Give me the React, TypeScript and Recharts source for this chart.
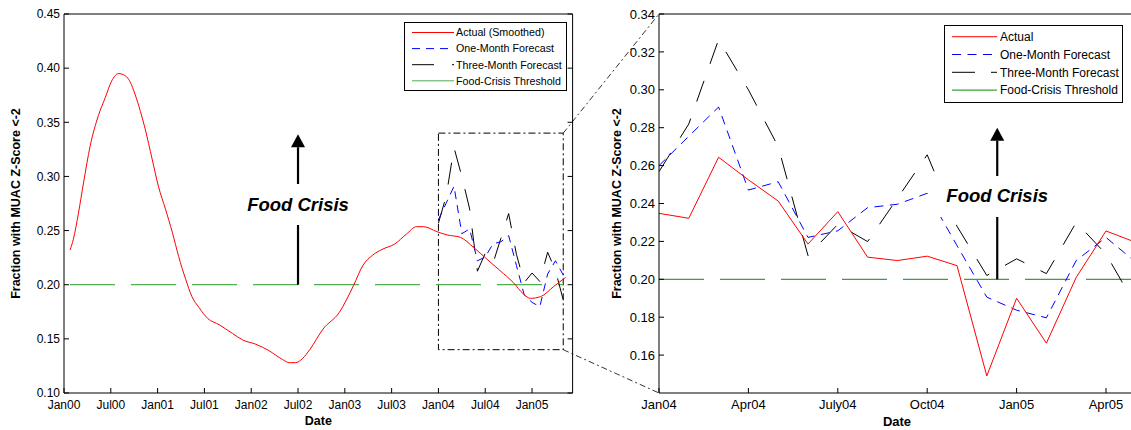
import React from 'react';
import {
  LineChart,
  Line,
  XAxis,
  YAxis,
  ReferenceLine,
  ReferenceArea,
  ReferenceDot,
  Legend,
} from 'recharts';

const FONT = '"Liberation Sans", Arial, Helvetica, sans-serif';

// ---------- Left panel: smoothed actual (months since Jan00) ----------
const smoothMonths = [
  0.77, 1.2, 1.85, 2.5, 3.35, 4.4, 5.3, 6.1, 7.0, 7.6, 8.5, 9.1, 9.8, 10.4, 11.3, 12.1, 13.0, 13.9,
  14.7, 15.6, 16.4, 17.3, 18.4, 19.9, 21.6, 22.9, 24.6, 26.3, 28.0, 28.9, 29.7, 30.6, 31.5, 33.2,
  35.3, 37.1, 38.3, 39.6, 40.9, 42.4, 43.9, 45.2, 46.1, 47.8, 49.1, 50.8, 52.5, 54.2, 55.9, 57.6,
  58.9, 59.8, 61.1, 62.8, 64.3,
];
const smoothValues = [
  0.232, 0.242, 0.266, 0.294, 0.328, 0.356, 0.373, 0.388, 0.395, 0.394, 0.387, 0.376, 0.36, 0.344,
  0.316, 0.291, 0.27, 0.248, 0.226, 0.205, 0.189, 0.179, 0.169, 0.163, 0.155, 0.149, 0.145, 0.139,
  0.131, 0.128, 0.128, 0.132, 0.14, 0.159, 0.1745, 0.199, 0.2176, 0.2275, 0.233, 0.2376, 0.2468,
  0.2536, 0.2536, 0.249, 0.246, 0.2438, 0.2345, 0.2237, 0.213, 0.202, 0.1914, 0.1874, 0.189,
  0.1985, 0.2068,
];
const leftTickMonths = [0, 6, 12, 18, 24, 30, 36, 42, 48, 54, 60];
const leftTickLabels = ['Jan00', 'Jul00', 'Jan01', 'Jul01', 'Jan02', 'Jul02', 'Jan03', 'Jul03', 'Jan04', 'Jul04', 'Jan05'];
const leftYTicks = [0.1, 0.15, 0.2, 0.25, 0.3, 0.35, 0.4, 0.45];

// ---------- Right panel: monthly values (months since Jan04) ----------
const fcMonths = [0, 1, 2, 3, 4, 5, 6, 7, 8, 9, 10, 11, 12, 13, 14, 15, 16];
const actualValues = [0.2348, 0.2322, 0.2644, 0.2525, 0.2413, 0.2186, 0.2357, 0.2117, 0.2099, 0.2122, 0.2072, 0.149, 0.19, 0.1663, 0.201, 0.2255, 0.2195];
const oneMonthValues = [0.26, 0.2755, 0.2909, 0.2471, 0.2515, 0.2221, 0.2256, 0.2378, 0.2396, 0.2454, 0.2178, 0.1906, 0.1837, 0.1797, 0.2099, 0.2221, 0.209];
const threeMonthValues = [0.2568, 0.282, 0.3265, 0.3, 0.27, 0.2125, 0.229, 0.2199, 0.2427, 0.2657, 0.228, 0.202, 0.2108, 0.203, 0.23, 0.2133, 0.186];
const rightTickMonths = [0, 3, 6, 9, 12, 15];
const rightTickLabels = ['Jan04', 'Apr04', 'July04', 'Oct04', 'Jan05', 'Apr05'];
const rightYTicks = [0.16, 0.18, 0.2, 0.22, 0.24, 0.26, 0.28, 0.3, 0.32, 0.34];

const threshold = 0.2;
const zoomStart = 48; // Jan04 on the left panel's month axis
const zoomEnd = 64;
const zoomLow = 0.14;
const zoomHigh = 0.34;

// annotation anchors
const leftArrowMonth = 30;
const leftArrowTop = 0.327;
const leftTextValue = 0.274;
const rightArrowMonth = 11.35;
const rightArrowTop = 0.2731;
const rightTextValue = 0.2438;

// ---------- layout ----------
const H = 430;
const TOP = 14;
const BOTTOM = 393;
const L_W = 580;
const L_LEFT = 64;
const L_RIGHT = 572.6;
const L_XDOM: [number, number] = [0, 65.2];
const L_YDOM: [number, number] = [0.1, 0.45];
const R_OFF = 600;
const R_W = 545;
const R_LEFT = 59;
const R_XDOM: [number, number] = [0, 16];
const R_YDOM: [number, number] = [0.14, 0.34];
const R_PX_MONTH = 29.8;
const R_RIGHT = R_LEFT + (R_XDOM[1] - R_XDOM[0]) * R_PX_MONTH;

const lx = (m: number) => L_LEFT + ((m - L_XDOM[0]) / (L_XDOM[1] - L_XDOM[0])) * (L_RIGHT - L_LEFT);
const ly = (v: number) => TOP + ((L_YDOM[1] - v) / (L_YDOM[1] - L_YDOM[0])) * (BOTTOM - TOP);
const rx = (m: number) => R_OFF + R_LEFT + ((m - R_XDOM[0]) / (R_XDOM[1] - R_XDOM[0])) * (R_RIGHT - R_LEFT);
const ry = (v: number) => TOP + ((R_YDOM[1] - v) / (R_YDOM[1] - R_YDOM[0])) * (BOTTOM - TOP);

// ---------- data rows ----------
const smoothRows = smoothMonths.map((m, i) => ({ m, v: smoothValues[i] }));
const leftFcRows = fcMonths.map((m, i) => ({ m: m + zoomStart, one: oneMonthValues[i], three: threeMonthValues[i] }));
const leftThreshRows = [
  { m: smoothMonths[0], v: threshold },
  { m: zoomEnd, v: threshold },
];
const rightRows = fcMonths.map((m, i) => ({ m, a: actualValues[i], one: oneMonthValues[i], three: threeMonthValues[i] }));
const rightThreshRows = [
  { m: fcMonths[0], v: threshold },
  { m: fcMonths[fcMonths.length - 1], v: threshold },
];

// ---------- ticks ----------
const makeBottomTick = (months: number[], labels: string[], fs: number, dy: number) => (p: any) => {
  const idx = months.findIndex((t) => Math.abs(t - p.payload.value) < 1e-6);
  return (
    <g>
      <line x1={p.x} x2={p.x} y1={p.y} y2={p.y - 5} stroke="#000" strokeWidth={1} />
      <text x={p.x} y={p.y + dy} textAnchor="middle" fontSize={fs} fill="#000" fontFamily={FONT}>
        {labels[idx]}
      </text>
    </g>
  );
};
const TopTick = (p: any) => <line x1={p.x} x2={p.x} y1={p.y} y2={p.y + 5} stroke="#000" strokeWidth={1} />;
const makeLeftTick = (fs: number) => (p: any) => (
  <g>
    <line x1={p.x} x2={p.x + 5} y1={p.y} y2={p.y} stroke="#000" strokeWidth={1} />
    <text x={p.x - 4} y={p.y + fs * 0.36} textAnchor="end" fontSize={fs} fill="#000" fontFamily={FONT}>
      {Number(p.payload.value).toFixed(2)}
    </text>
  </g>
);
const RightTick = (p: any) => <line x1={p.x} x2={p.x - 5} y1={p.y} y2={p.y} stroke="#000" strokeWidth={1} />;

// ---------- legend ----------
type Item = { label: string; color: string; dash?: string };
const leftLegendItems: Item[] = [
  { label: 'Actual (Smoothed)', color: '#ff0000' },
  { label: 'One-Month Forecast', color: '#0000ff', dash: '8 6' },
  { label: 'Three-Month Forecast', color: '#000000', dash: '22 18' },
  { label: 'Food-Crisis Threshold', color: '#4fae4f' },
];
const rightLegendItems: Item[] = [
  { label: 'Actual', color: '#ff0000' },
  { label: 'One-Month Forecast', color: '#0000ff', dash: '9 6.5' },
  { label: 'Three-Month Forecast', color: '#000000', dash: '23 16' },
  { label: 'Food-Crisis Threshold', color: '#0a8a0a' },
];

const LegendPanel = (props: {
  items: Item[];
  width: number;
  height: number;
  rowY0: number;
  rowGap: number;
  s0: number;
  s1: number;
  tx: number;
  fs: number;
}) => (
  <div
    style={{
      width: props.width,
      height: props.height,
      border: '1px solid #000',
      background: '#fff',
      boxSizing: 'border-box',
    }}
  >
    <svg width={props.width - 2} height={props.height - 2} style={{ display: 'block' }}>
      {props.items.map((it, i) => {
        const y = props.rowY0 + i * props.rowGap;
        return (
          <g key={it.label}>
            <line x1={props.s0} x2={props.s1} y1={y} y2={y} stroke={it.color} strokeWidth={1} strokeDasharray={it.dash} />
            <text x={props.tx} y={y + props.fs * 0.36} fontSize={props.fs} fill="#000" fontFamily={FONT}>
              {it.label}
            </text>
          </g>
        );
      })}
    </svg>
  </div>
);

const arrowHead = (p: any) => (
  <polygon points={`${p.cx - 7},${p.cy} ${p.cx + 7},${p.cy} ${p.cx},${p.cy - 13}`} fill="#000" />
);

const foodCrisisStyle = (cx: number, cy: number): React.CSSProperties => ({
  position: 'absolute',
  left: cx - 67,
  top: cy - 20.5,
  width: 134,
  height: 41,
  background: '#fff',
  display: 'flex',
  alignItems: 'center',
  justifyContent: 'center',
  fontFamily: FONT,
  fontWeight: 'bold',
  fontStyle: 'italic',
  fontSize: 18.5,
  color: '#000',
  lineHeight: '20px',
});

export default function App() {
  const yLabel = 'Fraction with MUAC Z-Score <-2';
  return (
    <div
      style={{
        position: 'fixed',
        left: 0,
        top: 0,
        width: 1131,
        height: H,
        overflow: 'hidden',
        background: '#fff',
        fontFamily: FONT,
      }}
    >
      {/* Left panel */}
      <div style={{ position: 'absolute', left: 0, top: 0 }}>
        <LineChart width={L_W} height={H} margin={{ top: 0, right: 0, bottom: 0, left: 0 }}>
          <XAxis
            type="number"
            dataKey="m"
            domain={L_XDOM}
            allowDataOverflow
            ticks={leftTickMonths}
            interval={0}
            height={H - BOTTOM}
            tickSize={0}
            tickMargin={0}
            tickLine={false}
            axisLine={{ stroke: '#000', strokeWidth: 1 }}
            tick={makeBottomTick(leftTickMonths, leftTickLabels, 12, 16)}
          />
          <XAxis
            xAxisId="top"
            orientation="top"
            type="number"
            domain={L_XDOM}
            allowDataOverflow
            ticks={leftTickMonths}
            interval={0}
            height={TOP}
            tickSize={0}
            tickMargin={0}
            tickLine={false}
            axisLine={{ stroke: '#000', strokeWidth: 1 }}
            tick={TopTick}
          />
          <YAxis
            type="number"
            domain={L_YDOM}
            allowDataOverflow
            ticks={leftYTicks}
            interval={0}
            width={L_LEFT}
            tickSize={0}
            tickMargin={0}
            tickLine={false}
            axisLine={{ stroke: '#000', strokeWidth: 1 }}
            tick={makeLeftTick(12)}
          />
          <YAxis
            yAxisId="r"
            orientation="right"
            type="number"
            domain={L_YDOM}
            allowDataOverflow
            ticks={leftYTicks}
            interval={0}
            width={L_W - L_RIGHT}
            tickSize={0}
            tickMargin={0}
            tickLine={false}
            axisLine={{ stroke: '#000', strokeWidth: 1 }}
            tick={RightTick}
          />
          <ReferenceArea
            x1={zoomStart}
            x2={zoomEnd}
            y1={zoomLow}
            y2={zoomHigh}
            fill="none"
            fillOpacity={0}
            stroke="#000"
            strokeWidth={1}
            strokeDasharray="7 3 2 3"
          />
          <Line data={leftThreshRows} dataKey="v" type="linear" stroke="#4fae4f" strokeWidth={1.3} strokeDasharray="45 16" dot={false} activeDot={false} isAnimationActive={false} />
          <Line data={leftFcRows} dataKey="three" type="linear" stroke="#000" strokeWidth={1} strokeDasharray="22 18" dot={false} activeDot={false} isAnimationActive={false} />
          <Line data={leftFcRows} dataKey="one" type="linear" stroke="#0000ff" strokeWidth={1} strokeDasharray="8 6" dot={false} activeDot={false} isAnimationActive={false} />
          <Line data={smoothRows} dataKey="v" type="monotone" stroke="#ff0000" strokeWidth={1} dot={false} activeDot={false} isAnimationActive={false} />
          <ReferenceLine
            segment={[
              { x: leftArrowMonth, y: threshold },
              { x: leftArrowMonth, y: leftArrowTop },
            ]}
            stroke="#000"
            strokeWidth={2.2}
          />
          <ReferenceDot x={leftArrowMonth} y={leftArrowTop} r={0} shape={arrowHead} />
          <Legend
            layout="vertical"
            align="center"
            verticalAlign="middle"
            wrapperStyle={{ left: 404, top: 21.7, width: 163, height: 69, margin: 0, padding: 0 }}
            content={() => (
              <LegendPanel items={leftLegendItems} width={163} height={69} rowY0={9.5} rowGap={16.1} s0={7} s1={49} tx={51} fs={10.7} />
            )}
          />
        </LineChart>
      </div>

      {/* Right panel */}
      <div style={{ position: 'absolute', left: R_OFF, top: 0 }}>
        <LineChart width={R_W} height={H} margin={{ top: 0, right: R_W - R_RIGHT, bottom: 0, left: 0 }}>
          <XAxis
            type="number"
            dataKey="m"
            domain={R_XDOM}
            allowDataOverflow
            ticks={rightTickMonths}
            interval={0}
            height={H - BOTTOM}
            tickSize={0}
            tickMargin={0}
            tickLine={false}
            axisLine={{ stroke: '#000', strokeWidth: 1 }}
            tick={makeBottomTick(rightTickMonths, rightTickLabels, 13, 16)}
          />
          <XAxis
            xAxisId="top"
            orientation="top"
            type="number"
            domain={R_XDOM}
            allowDataOverflow
            ticks={rightTickMonths}
            interval={0}
            height={TOP}
            tickSize={0}
            tickMargin={0}
            tickLine={false}
            axisLine={{ stroke: '#000', strokeWidth: 1 }}
            tick={TopTick}
          />
          <YAxis
            type="number"
            domain={R_YDOM}
            allowDataOverflow
            ticks={rightYTicks}
            interval={0}
            width={R_LEFT}
            tickSize={0}
            tickMargin={0}
            tickLine={false}
            axisLine={{ stroke: '#000', strokeWidth: 1 }}
            tick={makeLeftTick(13)}
          />
          <Line data={rightThreshRows} dataKey="v" type="linear" stroke="#3d9e3d" strokeWidth={1.3} strokeDasharray="45 16" dot={false} activeDot={false} isAnimationActive={false} />
          <Line data={rightRows} dataKey="three" type="linear" stroke="#000" strokeWidth={1} strokeDasharray="22 18" dot={false} activeDot={false} isAnimationActive={false} />
          <Line data={rightRows} dataKey="one" type="linear" stroke="#0000ff" strokeWidth={1} strokeDasharray="9 6.5" dot={false} activeDot={false} isAnimationActive={false} />
          <Line data={rightRows} dataKey="a" type="linear" stroke="#ff0000" strokeWidth={1} dot={false} activeDot={false} isAnimationActive={false} />
          <ReferenceLine
            segment={[
              { x: rightArrowMonth, y: threshold },
              { x: rightArrowMonth, y: rightArrowTop },
            ]}
            stroke="#000"
            strokeWidth={2.2}
          />
          <ReferenceDot x={rightArrowMonth} y={rightArrowTop} r={0} shape={arrowHead} />
          <Legend
            layout="vertical"
            align="center"
            verticalAlign="middle"
            wrapperStyle={{ left: 344, top: 25, width: 179, height: 78, margin: 0, padding: 0 }}
            content={() => (
              <LegendPanel items={rightLegendItems} width={179} height={78} rowY0={10.7} rowGap={17.8} s0={7} s1={52} tx={55} fs={12} />
            )}
          />
        </LineChart>
      </div>

      {/* annotations overlay */}
      <svg width={1131} height={H} style={{ position: 'absolute', left: 0, top: 0, pointerEvents: 'none' }}>
        <line x1={lx(zoomEnd)} y1={ly(zoomHigh)} x2={rx(0)} y2={ry(zoomHigh)} stroke="#000" strokeWidth={0.8} strokeDasharray="6 3 2 3" />
        <line x1={lx(zoomEnd)} y1={ly(zoomLow)} x2={rx(0)} y2={ry(zoomLow)} stroke="#000" strokeWidth={0.8} strokeDasharray="6 3 2 3" />
        <text transform={`translate(20,${(TOP + BOTTOM) / 2}) rotate(-90)`} textAnchor="middle" fontSize={12.5} fontWeight="bold" fill="#000" fontFamily={FONT}>
          {yLabel}
        </text>
        <text transform={`translate(621,${(TOP + BOTTOM) / 2}) rotate(-90)`} textAnchor="middle" fontSize={12.5} fontWeight="bold" fill="#000" fontFamily={FONT}>
          {yLabel}
        </text>
        <text x={(L_LEFT + L_RIGHT) / 2} y={425} textAnchor="middle" fontSize={12.5} fontWeight="bold" fill="#000" fontFamily={FONT}>
          Date
        </text>
        <text x={897} y={426} textAnchor="middle" fontSize={13} fontWeight="bold" fill="#000" fontFamily={FONT}>
          Date
        </text>
      </svg>
      <div style={foodCrisisStyle(lx(leftArrowMonth), ly(leftTextValue))}>Food Crisis</div>
      <div style={foodCrisisStyle(rx(rightArrowMonth), ry(rightTextValue))}>Food Crisis</div>
    </div>
  );
}
